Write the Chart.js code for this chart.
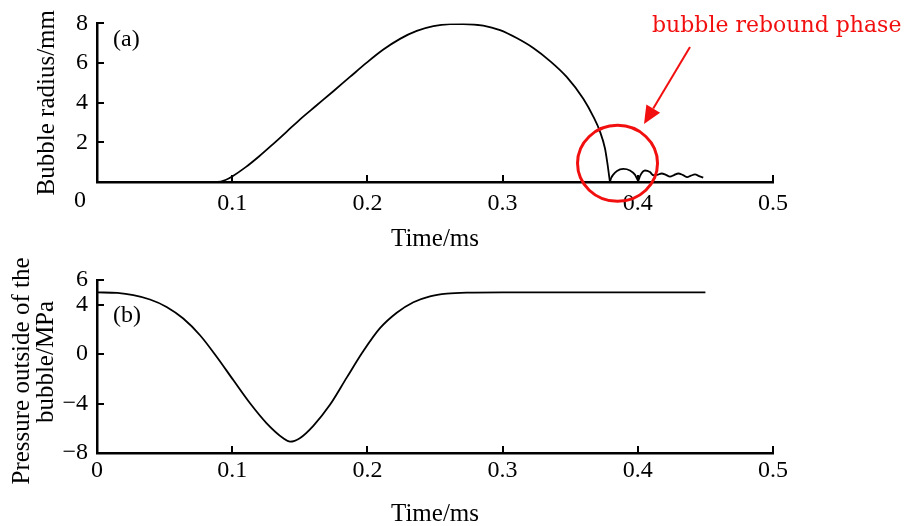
<!DOCTYPE html>
<html>
<head>
<meta charset="utf-8">
<title>Bubble radius and pressure</title>
<script src="https://cdn.jsdelivr.net/npm/chart.js@4.4.1/dist/chart.umd.min.js"></script>
<style>
  html, body { margin: 0; background: #fff; }
  #wrap { position: relative; width: 910px; height: 526px; overflow: hidden; }
  canvas { position: absolute; left: 0; }
  #radiusChart { top: 0; }
  #pressureChart { top: 240px; }
</style>
</head>
<body>
<div id="wrap">
  <canvas id="radiusChart" width="910" height="260"></canvas>
  <canvas id="pressureChart" width="910" height="286"></canvas>
</div>
<script>
const timeTicks = [0, 0.1, 0.2, 0.3, 0.4, 0.5];
const radiusTicks = [0, 2, 4, 6, 8];
const pressureTicks = [-8, -4, 0, 4, 6];

// (a) growth and collapse of the bubble
const radiusTime = [0, 0.089, 0.095, 0.1, 0.11, 0.12, 0.13, 0.14, 0.15, 0.1625, 0.1748, 0.1871, 0.1995, 0.2118, 0.2241, 0.2365, 0.2488, 0.2611, 0.271, 0.2857, 0.2981, 0.3104, 0.3227, 0.3351, 0.3474, 0.3597, 0.3671, 0.372, 0.3757, 0.3775, 0.3788, 0.3794];
const radiusValue = [0, 0, 0.1, 0.28, 0.75, 1.3, 1.9, 2.52, 3.15, 3.87, 4.58, 5.3, 6.02, 6.68, 7.22, 7.62, 7.86, 7.96, 7.97, 7.89, 7.66, 7.26, 6.76, 6.1, 5.3, 4.2, 3.3, 2.55, 1.7, 0.95, 0.3, 0];

// rebound bubbles after the collapse
const reboundTime = [0.3794, 0.3803, 0.3817, 0.3846, 0.3893, 0.3942, 0.398, 0.3993, 0.4003, 0.4016, 0.4053, 0.409, 0.4115, 0.4142, 0.4177, 0.4208, 0.4238, 0.4268, 0.43, 0.4334, 0.4366, 0.4393, 0.4423, 0.4453, 0.4484];
const reboundValue = [0, 0.2, 0.36, 0.56, 0.66, 0.58, 0.36, 0.18, 0.05, 0.3, 0.58, 0.5, 0.34, 0.36, 0.43, 0.36, 0.27, 0.35, 0.43, 0.35, 0.25, 0.32, 0.38, 0.3, 0.22];

// (b) pressure outside of the bubble
const pressureTime = [0, 0.015, 0.0269, 0.0392, 0.0515, 0.0638, 0.0762, 0.0885, 0.1008, 0.1132, 0.1255, 0.1378, 0.1428, 0.15, 0.16, 0.1723, 0.1847, 0.197, 0.2093, 0.2217, 0.234, 0.2463, 0.2587, 0.2734, 0.3, 0.35, 0.4, 0.45];
const pressureValue = [5.0, 4.95, 4.77, 4.42, 3.82, 2.88, 1.53, -0.21, -2.1, -3.98, -5.6, -6.81, -7.08, -6.8, -5.8, -4.1, -1.9, 0.25, 2.1, 3.35, 4.2, 4.68, 4.9, 4.98, 5.0, 5.0, 5.0, 5.0];

const ink = "#000";
const red = "#f20f0f";
const serif = "'Liberation Serif', 'Times New Roman', serif";

Chart.defaults.color = ink;
Chart.defaults.font.family = serif;

const zip = (xs, ys) => xs.map((x, i) => ({ x, y: ys[i] }));
const fmtTick = (v) => (v === 0 ? "0" : v < 0 ? `\u2212${Math.abs(v)}` : Number.isInteger(v) ? String(v) : v.toFixed(1));

function line(data) {
  return {
    data,
    borderColor: ink,
    borderWidth: 1.8,
    pointRadius: 0,
    cubicInterpolationMode: "monotone",
    fill: false
  };
}

// short tick marks pointing into the plot, like the original figure
const insideTicks = {
  id: "insideTicks",
  afterDraw(chart) {
    const { ctx, scales: { x, y } } = chart;
    ctx.save();
    ctx.strokeStyle = ink;
    ctx.lineWidth = 2;
    ctx.beginPath();
    x.ticks.forEach((t) => {
      if (t.value === x.min) return;
      const px = Math.round(x.getPixelForValue(t.value));
      ctx.moveTo(px, y.bottom);
      ctx.lineTo(px, y.bottom - 7);
    });
    y.ticks.forEach((t) => {
      if (t.value === y.min) return;
      const py = Math.round(y.getPixelForValue(t.value));
      ctx.moveTo(x.left, py);
      ctx.lineTo(x.left + 7, py);
    });
    ctx.stroke();
    ctx.restore();
  }
};

function axes({ yTicks, yMin, yMax, yTitle, xHeight, xPad, xTitlePad, xTitleLine, hideZero }) {
  return {
    x: {
      type: "linear",
      min: 0,
      max: 0.5,
      afterBuildTicks: (scale) => { scale.ticks = timeTicks.map((value) => ({ value })); },
      afterFit: (scale) => { scale.height = xHeight; },
      grid: { display: false, drawTicks: false },
      border: { display: true, color: ink, width: 2.5 },
      ticks: {
        autoSkip: false,
        maxRotation: 0,
        padding: xPad,
        font: { size: 24, family: serif },
        callback: (v) => (hideZero && v === 0 ? "" : fmtTick(v))
      },
      title: { display: true, text: "Time/ms", font: { size: 25, family: serif, lineHeight: xTitleLine }, padding: { top: 0, bottom: xTitlePad } }
    },
    y: {
      min: yMin,
      max: yMax,
      afterBuildTicks: (scale) => { scale.ticks = yTicks.map((value) => ({ value })); },
      afterFit: (scale) => { scale.width = 97; },
      grid: { display: false, drawTicks: false },
      border: { display: true, color: ink, width: 2.5 },
      ticks: {
        autoSkip: false,
        padding: 9,
        font: { size: 24, family: serif },
        callback: (v) => (hideZero && v === 0 ? "" : fmtTick(v))
      },
      title: yTitle
        ? { display: true, text: yTitle, font: { size: 25, family: serif, lineHeight: 1 }, padding: { top: 35, bottom: 0 } }
        : { display: false }
    }
  };
}

const radiusNotes = {
  id: "radiusNotes",
  afterDraw(chart) {
    const { ctx, scales: { x, y } } = chart;
    ctx.save();
    ctx.fillStyle = ink;
    ctx.font = `24px ${serif}`;
    ctx.textBaseline = "middle";
    ctx.textAlign = "left";
    ctx.fillText("(a)", 113, 40);
    // shared origin label sits left of the axis corner
    ctx.textAlign = "center";
    ctx.textBaseline = "top";
    ctx.fillText("0", x.left - 17, y.bottom + 7);

    // red highlight of the rebound phase
    const cx = x.getPixelForValue(0.385);
    const cy = y.getPixelForValue(0.94);
    ctx.strokeStyle = red;
    ctx.fillStyle = red;
    ctx.lineWidth = 3;
    ctx.beginPath();
    ctx.ellipse(cx, cy, 40, 38, 0, 0, Math.PI * 2);
    ctx.stroke();

    const from = { x: 690, y: 47 };
    const to = { x: 644, y: 124 };
    const ang = Math.atan2(to.y - from.y, to.x - from.x);
    const headLen = 18;
    const headHalf = 8;
    const bx = to.x - headLen * Math.cos(ang);
    const by = to.y - headLen * Math.sin(ang);
    ctx.lineWidth = 2;
    ctx.beginPath();
    ctx.moveTo(from.x, from.y);
    ctx.lineTo(bx, by);
    ctx.stroke();
    ctx.beginPath();
    ctx.moveTo(to.x, to.y);
    ctx.lineTo(bx + headHalf * Math.sin(ang), by - headHalf * Math.cos(ang));
    ctx.lineTo(bx - headHalf * Math.sin(ang), by + headHalf * Math.cos(ang));
    ctx.closePath();
    ctx.fill();

    ctx.font = "22px 'DejaVu Serif', serif";
    ctx.textAlign = "left";
    ctx.textBaseline = "middle";
    ctx.fillText("bubble rebound phase", 652, 26);
    ctx.restore();
  }
};

const pressureNotes = {
  id: "pressureNotes",
  afterDraw(chart) {
    const { ctx } = chart;
    ctx.save();
    ctx.fillStyle = ink;
    ctx.font = `24px ${serif}`;
    ctx.textBaseline = "middle";
    ctx.fillText("(b)", 113, 76);
    // two-line axis title, the lines are not centred on the same point
    ctx.font = `25px ${serif}`;
    ctx.textAlign = "center";
    ctx.translate(22, 131);
    ctx.rotate(-Math.PI / 2);
    ctx.fillText("Pressure outside of the", 0, 0);
    ctx.fillText("bubble/MPa", 9, 24);
    ctx.restore();
  }
};

const common = {
  responsive: false,
  animation: false,
  devicePixelRatio: 1,
  plugins: { legend: { display: false }, tooltip: { enabled: false } }
};

new Chart(document.getElementById("radiusChart"), {
  type: "line",
  data: { datasets: [line(zip(radiusTime, radiusValue)), line(zip(reboundTime, reboundValue))] },
  options: {
    ...common,
    layout: { padding: { top: 16, right: 137, left: 0, bottom: 0 } },
    scales: axes({ yTicks: radiusTicks, yMin: 0, yMax: 8, yTitle: "Bubble radius/mm", xHeight: 78, xPad: 7, xTitlePad: 8, xTitleLine: 1, hideZero: true })
  },
  plugins: [insideTicks, radiusNotes]
});

new Chart(document.getElementById("pressureChart"), {
  type: "line",
  data: { datasets: [line(zip(pressureTime, pressureValue))] },
  options: {
    ...common,
    layout: { padding: { top: 40, right: 137, left: 0, bottom: 0 } },
    scales: axes({ yTicks: pressureTicks, yMin: -8, yMax: 6, yTitle: null, xHeight: 73, xPad: 3, xTitlePad: 0, xTitleLine: 0.9, hideZero: false })
  },
  plugins: [insideTicks, pressureNotes]
});
</script>
</body>
</html>
